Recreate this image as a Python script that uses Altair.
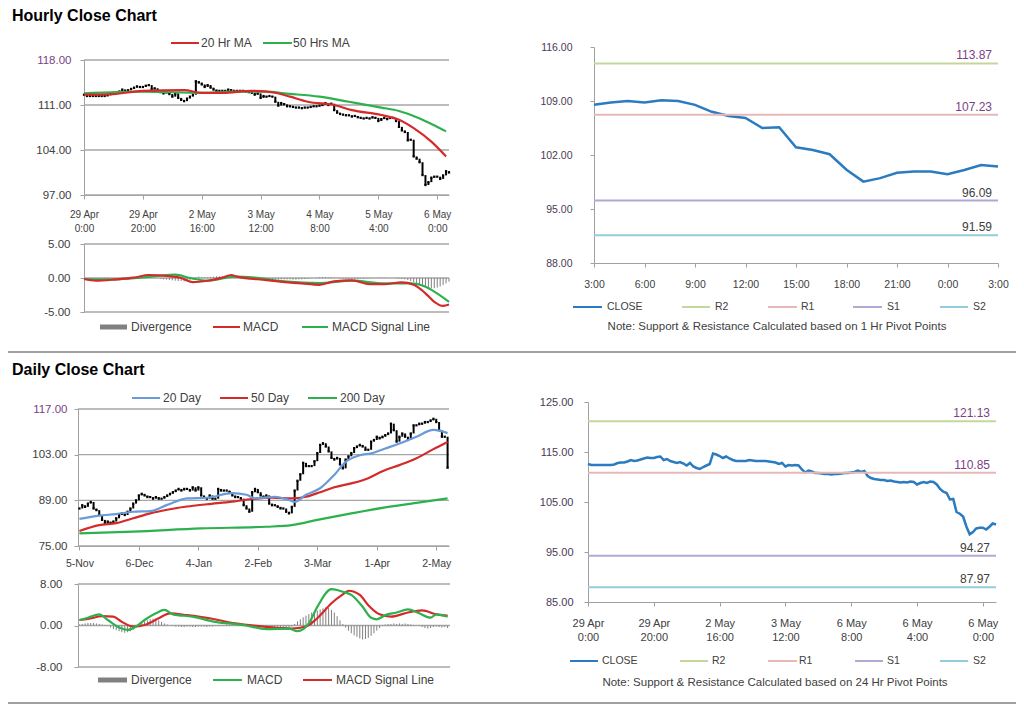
import altair as alt
import pandas as pd

# ---------------- data ----------------
hourly_close = [
    112.6, 112.4, 112.4, 112.4, 112.4, 112.4, 112.4, 112.4, 112.5, 112.8,
    112.9, 112.9, 113.1, 113.4, 113.2, 113.3, 113.5, 113.7, 113.9, 113.8,
    113.8, 114.0, 114.1, 113.4, 113.6, 113.2, 113.0, 112.8, 113.0, 112.7,
    112.3, 112.8, 112.1, 111.8, 111.6, 112.0, 112.3, 112.6, 114.7, 114.5,
    114.2, 113.8, 114.1, 113.7, 113.4, 113.2, 113.2, 113.2, 113.2, 113.4,
    113.3, 113.2, 113.2, 113.2, 113.2, 113.1, 113.0, 112.9, 112.6, 112.8,
    112.1, 112.4, 112.3, 112.4, 112.3, 111.5, 110.9, 111.3, 111.1, 110.8,
    110.8, 110.7, 110.6, 110.6, 110.5, 110.6, 110.6, 110.7, 110.8, 110.8,
    110.9, 111.0, 111.3, 111.0, 111.2, 110.2, 109.8, 109.6, 109.5, 109.4,
    109.4, 109.2, 109.3, 109.1, 109.0, 108.9, 109.0, 108.9, 109.1, 109.0,
    108.5, 108.8, 109.0, 108.8, 109.1, 109.0, 108.5, 107.6, 107.05, 106.8,
    105.5, 105.6, 103.0, 102.65, 102.1, 100.1, 98.55, 99.0, 99.7, 99.85,
    99.85, 99.5, 100.05, 100.7, 100.5,
]
hourly_ma20_idx = [0, 10, 20, 34, 40, 47, 57, 65, 70, 76, 85, 91, 101, 107, 112, 118, 123]
hourly_ma20 = [112.6, 112.7, 113.2, 113.3, 112.9, 112.9, 113.2, 112.9, 112.3, 111.5,
               111.0, 110.2, 109.45, 108.7, 107.4, 105.3, 103.0]
hourly_ma50_idx = [0, 20, 40, 51, 62, 68, 80, 90, 101, 107, 113, 118, 123]
hourly_ma50 = [112.8, 113.07, 112.9, 113.07, 113.07, 112.8, 112.3, 111.5, 110.6, 110.07,
               109.1, 108.05, 106.9]

hourly_macd_idx = [0, 4, 11, 17, 22, 28, 33, 37, 42, 47, 50, 52, 62, 74, 80, 85, 91, 97,
                   102, 108, 112, 116, 119, 122, 124]
hourly_macd = [-0.15, -0.4, -0.2, 0.05, 0.44, 0.3, 0.0, -0.6, -0.4, 0.05, 0.44, 0.2, -0.3,
               -0.8, -1.0, -0.5, -0.35, -0.9, -0.9, -0.65, -1.0, -2.25, -3.5, -4.1, -3.9]
hourly_signal_idx = [0, 11, 19, 25, 31, 36, 42, 51, 58, 68, 80, 91, 102, 111, 116, 119, 124]
hourly_signal = [-0.15, -0.2, 0.05, 0.3, 0.5, 0.0, -0.4, 0.2, 0.05, -0.5, -0.75, -0.4,
                 -0.8, -0.8, -1.3, -2.0, -3.5]
hourly_divergence = [
    0.0, -0.05, -0.1, -0.1, -0.05, 0.0, 0.0, 0.05, 0.05, 0.0,
    0.0, 0.0, 0.05, 0.1, 0.1, 0.15, 0.2, 0.2, 0.2, 0.2,
    0.15, 0.2, 0.25, 0.2, 0.1, 0.0, -0.1, -0.2, -0.25, -0.3,
    -0.35, -0.4, -0.45, -0.45, -0.5, -0.4, -0.3, -0.2, 0.1, 0.2,
    0.15, 0.1, 0.1, 0.15, 0.2, 0.25, 0.25, 0.2, 0.15, 0.1,
    0.1, 0.05, 0.0, -0.05, -0.1, -0.15, -0.2, -0.2, -0.2, -0.2,
    -0.25, -0.25, -0.25, -0.2, -0.2, -0.2, -0.25, -0.2, -0.2, -0.2,
    -0.2, -0.25, -0.25, -0.2, -0.2, -0.15, -0.1, -0.05, 0.0, 0.05,
    0.1, 0.15, 0.15, 0.1, 0.1, 0.05, 0.0, -0.05, -0.1, -0.15,
    -0.2, -0.2, -0.2, -0.15, -0.1, -0.1, -0.05, -0.05, 0.0, 0.0,
    0.05, 0.05, 0.05, 0.0, 0.0, 0.0, -0.05, -0.1, -0.15, -0.2,
    -0.3, -0.45, -0.6, -0.8, -1.0, -1.2, -1.35, -1.45, -1.5, -1.5,
    -1.4, -1.25, -1.05, -0.8, -0.55,
]

daily_close = [
    86.5, 87.5, 87.0, 88.0, 88.5, 86.5, 86.0, 84.5, 83.0, 82.0,
    82.5, 82.0, 82.5, 83.5, 84.5, 85.0, 84.5, 85.5, 86.5, 88.0,
    89.0, 90.5, 91.0, 90.5, 90.0, 90.0, 89.5, 90.0, 89.5, 89.5,
    90.0, 90.5, 91.0, 91.5, 92.0, 92.5, 92.0, 92.5, 92.5, 92.0,
    93.0, 92.0, 93.0, 90.5, 90.0, 89.5, 90.5, 89.5, 89.5, 92.5,
    92.0, 92.0, 92.0, 91.5, 90.5, 90.0, 90.0, 89.5, 87.5, 86.5,
    85.5, 91.5, 92.5, 91.5, 90.5, 90.0, 90.5, 88.0, 87.5, 87.5,
    87.0, 86.5, 86.5, 85.5, 85.0, 87.0, 92.0, 95.0, 97.0, 100.5,
    99.5, 99.5, 99.5, 101.0, 103.5, 106.0, 106.5, 105.5, 104.0, 102.0,
    101.5, 102.0, 100.0, 98.8, 101.5, 102.5, 103.5, 105.0, 105.5, 106.0,
    105.5, 104.5, 104.5, 107.0, 107.5, 108.5, 108.0, 108.5, 109.0, 109.5,
    112.5, 110.5, 107.0, 108.5, 109.5, 108.5, 107.5, 109.5, 112.0, 112.0,
    112.5, 112.5, 113.0, 113.0, 113.5, 114.0, 113.0, 110.5, 108.5, 108.5,
    99.0,
]
daily_ma20_idx = [0, 7, 13, 19, 25, 31, 38, 45, 54, 59, 62, 69, 74, 76, 80, 85, 90, 94,
                  99, 103, 108, 113, 119, 125, 130]
daily_ma20 = [83.3, 84.3, 84.8, 85.5, 85.7, 87.6, 89.6, 89.8, 91.2, 90.7, 89.6, 90.1, 89.1,
              88.5, 90.7, 92.7, 96.8, 100.8, 102.8, 103.4, 104.9, 106.4, 108.5, 110.6, 109.6]
daily_ma50_idx = [0, 7, 13, 19, 25, 31, 38, 45, 54, 61, 68, 75, 80, 85, 90, 96, 102, 107,
                  113, 119, 125, 130]
daily_ma50 = [79.6, 81.4, 82.0, 83.5, 85.0, 86.1, 87.1, 87.8, 88.6, 89.4, 89.8, 89.6, 90.1,
              91.5, 93.0, 94.2, 95.8, 97.9, 99.8, 101.9, 104.7, 106.9]
daily_ma200_idx = [0, 19, 43, 66, 75, 84, 96, 107, 119, 130]
daily_ma200 = [78.9, 79.4, 80.4, 80.9, 81.4, 83.0, 85.0, 86.7, 88.2, 89.6]

daily_macd_idx = [0, 3, 7, 10, 14, 17, 20, 23, 27, 30, 33, 40, 48, 58, 66, 74, 77, 81, 84,
                  89, 93, 96, 100, 103, 105, 108, 112, 116, 120, 124, 126, 130]
daily_macd = [1.06, 1.5, 2.15, 1.06, -0.4, -0.85, -0.2, 1.06, 2.35, 3.0, 2.15, 1.7, 0.7,
              0.1, -0.7, -0.6, -1.1, 0.4, 3.6, 7.0, 6.5, 5.9, 3.6, 1.5, 1.2, 2.0, 2.5, 3.1,
              2.35, 1.5, 2.15, 1.7]
daily_signal_idx = [0, 3, 8, 12, 15, 19, 23, 28, 32, 38, 46, 55, 65, 75, 80, 84, 89, 93, 95,
                    99, 102, 106, 110, 116, 121, 126, 130]
daily_signal = [1.06, 1.25, 1.8, 1.7, 0.7, -0.2, 0.1, 1.4, 2.35, 2.0, 1.4, 0.4, -0.2, -0.6,
                -0.2, 1.4, 4.3, 6.0, 6.7, 5.9, 3.9, 2.15, 1.7, 2.5, 2.9, 2.15, 1.9]
daily_divergence = [
    0.2, 0.3, 0.4, 0.5, 0.5, 0.5, 0.4, 0.3, 0.2, 0.1, -0.1,
    -0.4, -0.7, -0.9, -1.1, -1.3, -1.4, -1.3, -1.1, -0.8, -0.4, 0.1,
    0.5, 0.8, 1.0, 1.2, 1.3, 1.2, 1.0, 0.7, 0.4, 0.2, 0.0,
    -0.1, -0.2, -0.2, -0.3, -0.3, -0.2, -0.2, -0.3, -0.3, -0.2, -0.2,
    -0.2, -0.3, -0.2, -0.2, -0.1, -0.1, 0.1, 0.1, 0.2, 0.1, 0.1,
    0.0, -0.1, -0.1, -0.2, -0.2, -0.3, -0.3, -0.4, -0.3, -0.4, -0.3,
    -0.3, -0.4, -0.3, -0.3, -0.4, -0.3, -0.4, -0.5, -0.3, -0.2, 0.3,
    0.8, 1.2, 1.6, 1.9, 2.2, 2.5, 2.7, 2.9, 3.1, 3.3, 3.5,
    3.4, 3.0, 2.5, 1.8, 1.0, 0.3, -0.4, -1.0, -1.5, -1.9, -2.2,
    -2.5, -2.7, -2.6, -2.4, -2.0, -1.5, -1.0, -0.5, -0.1, 0.2, 0.3,
    0.3, 0.4, 0.3, 0.4, 0.3, 0.4, 0.3, 0.2, 0.1, 0.0, -0.1,
    -0.3, -0.5, -0.6, -0.5, -0.3, -0.2, -0.3, -0.4, -0.3, -0.5,
]

pivot_names = ["R2", "R1", "S1", "S2"]
hourly_pivots = [113.87, 107.23, 96.09, 91.59]
daily_pivots = [121.13, 110.85, 94.27, 87.97]

hourly_price_ticks = [97, 104, 111, 118]
hourly_macd_ticks = [-5, 0, 5]
daily_price_ticks = [75, 89, 103, 117]
daily_macd_ticks = [-8, 0, 8]
pivot1_ticks = [88, 95, 102, 109, 116]
pivot24_ticks = [85, 95, 105, 115, 125]

hourly_tick_labels = ["29 Apr|0:00", "29 Apr|20:00", "2 May|16:00", "3 May|12:00",
                      "4 May|8:00", "5 May|4:00", "6 May|0:00"]
pivot24_tick_labels = ["29 Apr|0:00", "29 Apr|20:00", "2 May|16:00", "3 May|12:00",
                       "6 May|8:00", "6 May|4:00", "6 May|0:00"]
hour_tick_labels = ["3:00", "6:00", "9:00", "12:00", "15:00", "18:00", "21:00", "0:00", "3:00"]
daily_tick_labels = ["5-Nov", "6-Dec", "4-Jan", "2-Feb", "3-Mar", "1-Apr", "2-May"]

hourly_legend = ["20 Hr MA", "50 Hrs MA"]
daily_legend = ["20 Day", "50 Day", "200 Day"]
macd_legend = ["Divergence", "MACD", "MACD  Signal Line"]
pivot_legend = ["CLOSE", "R2", "R1", "S1", "S2"]
titles = ["Hourly Close Chart", "Daily Close Chart"]
notes = ["Note: Support & Resistance Calculated based on 1 Hr Pivot Points",
         "Note:  Support & Resistance Calculated based on 24 Hr Pivot Points"]

# ---------------- style / layout ----------------
W, H = 1008, 697
FONT = "Liberation Sans"
AX = "#A0A0A0"
GRID = "#A6A6A6"
LBL = "#404040"
PURP = "#7B3F86"
RED = "#D42A2A"
GREEN = "#2DB14E"
BLUE20 = "#6A9BD8"
DIVG = "#808080"
CLOSE_C = "#2A7BC0"
PIV_COLORS = ["#C4D79B", "#E6B9B8", "#B4A7D6", "#92CDDC"]
pivot_color_scale = alt.Scale(domain=pivot_names, range=PIV_COLORS)

Y_EXPR = "replace(format(datum.value, '.2f'), '\u2212', '-')"


def label_expr(labels, step):
    arr = "[" + ",".join("'" + s + "'" for s in labels) + "]"
    return f"split({arr}[round(datum.value / {step})], '|')"


def sc(domain, rng):
    return alt.Scale(domain=domain, range=rng, nice=False, zero=False)


def y_axis(values, x_px, size, pad, top=None, color=LBL):
    lc = color if top is None else {
        "condition": {"test": f"datum.value == {top}", "value": PURP}, "value": color}
    return alt.Axis(orient="left", offset=-x_px, values=values, grid=False,
                    domainColor=AX, tickColor=AX, tickSize=4, labelFontSize=size,
                    labelColor=lc, labelPadding=pad, labelExpr=Y_EXPR, title=None,
                    labelFlush=False, labelOverlap=False)


def x_axis(values, y_px, expr, size, pad):
    return alt.Axis(orient="bottom", offset=y_px - H, values=values, grid=False,
                    domainColor=AX, tickColor=AX, tickSize=4, labelFontSize=size,
                    labelColor=LBL, labelPadding=pad, labelExpr=expr, labelLineHeight=14,
                    title=None, labelFlush=False, labelOverlap=False)


def grid_layer(ticks, ys, ya, x0, x1):
    return alt.Chart(pd.DataFrame({"v": ticks})).mark_rule(color=GRID, strokeWidth=1.3).encode(
        y=alt.Y("v:Q", scale=ys, axis=ya), x=alt.value(x0), x2=alt.value(x1))


def line_layer(idx, vals, xs, ys, xa, ya, color, width=2.2):
    df = pd.DataFrame({"i": idx, "v": vals})
    return alt.Chart(df).mark_line(color=color, strokeWidth=width, interpolate="monotone").encode(
        x=alt.X("i:Q", scale=xs, axis=xa), y=alt.Y("v:Q", scale=ys, axis=ya))


def candle_layers(closes, xs, ys, xa, ya):
    df = pd.DataFrame({"i": range(len(closes)), "close": closes})
    df["open"] = df["close"].shift(1).fillna(df["close"])
    body = alt.Chart(df).mark_rule(color="black", strokeWidth=2).encode(
        x=alt.X("i:Q", scale=xs, axis=xa), y=alt.Y("open:Q", scale=ys, axis=ya), y2="close:Q")
    dot = alt.Chart(df).mark_square(size=5, color="black", opacity=1).encode(
        x=alt.X("i:Q", scale=xs, axis=xa), y=alt.Y("close:Q", scale=ys, axis=ya))
    return [body, dot]


def div_layer(vals, xs, ys, xa, ya):
    df = pd.DataFrame({"i": range(len(vals)), "v": vals})
    return alt.Chart(df).mark_rule(color=DIVG, strokeWidth=1).encode(
        x=alt.X("i:Q", scale=xs, axis=xa), y=alt.Y("v:Q", scale=ys, axis=ya), y2=alt.datum(0))


def pivot_panel(closes, xs, ys, xa, ya, pivots, x0, x1):
    cdf = pd.DataFrame({"i": range(len(closes)), "v": closes})
    pdf = pd.DataFrame({"name": pivot_names, "v": pivots, "lab": [f"{v:.2f}" for v in pivots]})
    line = alt.Chart(cdf).mark_line(color=CLOSE_C, strokeWidth=2.5).encode(
        x=alt.X("i:Q", scale=xs, axis=xa), y=alt.Y("v:Q", scale=ys, axis=ya))
    rules = alt.Chart(pdf).mark_rule(strokeWidth=2).encode(
        y=alt.Y("v:Q", scale=ys, axis=ya), x=alt.value(x0), x2=alt.value(x1),
        color=alt.Color("name:N", scale=pivot_color_scale, legend=None))
    lab_r = alt.Chart(pdf.iloc[:2]).mark_text(align="right", baseline="alphabetic", dy=-4,
                                              fontSize=12, color=PURP).encode(
        y=alt.Y("v:Q", scale=ys, axis=ya), x=alt.value(x1 - 6), text="lab:N")
    lab_s = alt.Chart(pdf.iloc[2:]).mark_text(align="right", baseline="alphabetic", dy=-4,
                                              fontSize=12, color=LBL).encode(
        y=alt.Y("v:Q", scale=ys, axis=ya), x=alt.value(x1 - 6), text="lab:N")
    return alt.layer(line, rules, lab_r, lab_s)


ONE = pd.DataFrame({"k": [0]})


def txt(s, x, y, size=12, align="left", baseline="middle", color=LBL, bold=False):
    return alt.Chart(ONE).mark_text(text=s, align=align, baseline=baseline, fontSize=size,
                                    color=color, fontWeight="bold" if bold else "normal").encode(
        x=alt.value(x), y=alt.value(y))


def hline(x1, x2, y, color, width=2):
    return alt.Chart(ONE).mark_rule(color=color, strokeWidth=width).encode(
        x=alt.value(x1), x2=alt.value(x2), y=alt.value(y))


def box(x1, x2, y1, y2, color):
    return alt.Chart(ONE).mark_rect(color=color).encode(
        x=alt.value(x1), x2=alt.value(x2), y=alt.value(y1), y2=alt.value(y2))


# ---------------- hourly price ----------------
hx = sc([0, 124], [76, 441])
hy = sc([97, 118], [187, 52])
hxa = x_axis([0, 20, 40, 60, 80, 100, 120], 187, label_expr(hourly_tick_labels, 20), 10, 10)
hya = y_axis(hourly_price_ticks, 76, 11.5, 9, top=118)
p_hourly = alt.layer(
    grid_layer(hourly_price_ticks, hy, hya, 76, 441),
    *candle_layers(hourly_close, hx, hy, hxa, hya),
    line_layer(hourly_ma50_idx, hourly_ma50, hx, hy, hxa, hya, GREEN),
    line_layer(hourly_ma20_idx, hourly_ma20, hx, hy, hxa, hya, RED),
)

# ---------------- hourly MACD ----------------
mhy = sc([-5, 5], [304, 236])
mhya = y_axis(hourly_macd_ticks, 76, 11.5, 10)
p_hmacd = alt.layer(
    grid_layer(hourly_macd_ticks, mhy, mhya, 76, 441),
    div_layer(hourly_divergence, hx, mhy, None, mhya),
    line_layer(hourly_signal_idx, hourly_signal, hx, mhy, None, mhya, GREEN),
    line_layer(hourly_macd_idx, hourly_macd, hx, mhy, None, mhya, RED),
)

# ---------------- hourly pivot ----------------
px1 = sc([0, 24], [586, 990])
py1 = sc([88, 116], [255, 39])
px1a = x_axis(list(range(0, 25, 3)), 255, label_expr(hour_tick_labels, 3), 10.5, 12)
py1a = y_axis(pivot1_ticks, 586, 10.5, 18, color="#4B3A55")
p_piv1 = pivot_panel(hourly_close[100:], px1, py1, px1a, py1a, hourly_pivots, 586, 990)

# ---------------- daily price ----------------
dx = sc([-0.5, 130.5], [70, 441])
dy = sc([75, 117], [538, 401])
dxa = x_axis([0, 21, 42, 63, 84, 105, 126], 538, label_expr(daily_tick_labels, 21), 10.5, 8)
dya = y_axis(daily_price_ticks, 70, 11.5, 7, top=117)
p_daily = alt.layer(
    grid_layer(daily_price_ticks, dy, dya, 70, 441),
    *candle_layers(daily_close, dx, dy, dxa, dya),
    line_layer(daily_ma200_idx, daily_ma200, dx, dy, dxa, dya, GREEN),
    line_layer(daily_ma50_idx, daily_ma50, dx, dy, dxa, dya, RED),
    line_layer(daily_ma20_idx, daily_ma20, dx, dy, dxa, dya, BLUE20),
)

# ---------------- daily MACD ----------------
mdy = sc([-8, 8], [659, 576])
mdya = y_axis(daily_macd_ticks, 70, 11.5, 12)
p_dmacd = alt.layer(
    grid_layer(daily_macd_ticks, mdy, mdya, 70, 442),
    div_layer(daily_divergence, dx, mdy, None, mdya),
    line_layer(daily_signal_idx, daily_signal, dx, mdy, None, mdya, RED),
    line_layer(daily_macd_idx, daily_macd, dx, mdy, None, mdya, GREEN),
)

# ---------------- daily pivot ----------------
px2 = sc([0, 124], [580, 988])
py2 = sc([85, 125], [594, 394])
px2a = x_axis([0, 20, 40, 60, 80, 100, 120], 594, label_expr(pivot24_tick_labels, 20), 11, 11)
py2a = y_axis(pivot24_ticks, 580, 11, 11, color="#4B3A55")
p_piv2 = pivot_panel(hourly_close, px2, py2, px2a, py2a, daily_pivots, 580, 988)

# ---------------- titles, legends, separators ----------------
decor = [
    txt(titles[0], 4, 13, size=16, baseline="alphabetic", color="black", bold=True),
    txt(titles[1], 4, 367, size=16, baseline="alphabetic", color="black", bold=True),
    hline(0, W, 344, "#808080", 1.5),
    hline(0, W, 695, "#808080", 1.5),
    # hourly legend
    hline(163, 191, 35, RED), txt(hourly_legend[0], 193, 35),
    hline(255, 284, 35, GREEN), txt(hourly_legend[1], 285, 35),
    # hourly macd legend
    box(92, 119, 316.5, 321.5, DIVG), txt(macd_legend[0], 123, 319),
    hline(205, 232, 319, RED), txt(macd_legend[1], 235, 319),
    hline(294, 320, 319, GREEN), txt(macd_legend[2], 324, 319),
    # hourly pivot legend
    hline(565, 594, 299, CLOSE_C), txt(pivot_legend[0], 599, 299, size=10.5),
    hline(674, 702, 299, PIV_COLORS[0]), txt(pivot_legend[1], 707, 299, size=10.5),
    hline(760, 789, 299, PIV_COLORS[1]), txt(pivot_legend[2], 793, 299, size=10.5),
    hline(845, 874, 299, PIV_COLORS[2]), txt(pivot_legend[3], 879, 299, size=10.5),
    hline(932, 960, 299, PIV_COLORS[3]), txt(pivot_legend[4], 965, 299, size=10.5),
    txt(notes[0], 769, 319, size=11.5, align="center"),
    # daily legend
    hline(124, 152, 390, BLUE20), txt(daily_legend[0], 155, 390),
    hline(212, 240, 390, RED), txt(daily_legend[1], 243, 390),
    hline(300, 329, 390, GREEN), txt(daily_legend[2], 332, 390),
    # daily macd legend
    box(90, 119, 669.5, 674.5, DIVG), txt(macd_legend[0], 123, 672),
    hline(205, 234, 672, GREEN), txt(macd_legend[1], 239, 672),
    hline(295, 324, 672, RED), txt(macd_legend[2], 328, 672),
    # daily pivot legend
    hline(562, 590, 653, CLOSE_C), txt(pivot_legend[0], 594, 653, size=10.5),
    hline(672, 700, 653, PIV_COLORS[0]), txt(pivot_legend[1], 704, 653, size=10.5),
    hline(760, 789, 653, PIV_COLORS[1]), txt(pivot_legend[2], 791, 653, size=10.5),
    hline(847, 875, 653, PIV_COLORS[2]), txt(pivot_legend[3], 879, 653, size=10.5),
    hline(932, 960, 653, PIV_COLORS[3]), txt(pivot_legend[4], 965, 653, size=10.5),
    txt(notes[1], 767, 675, size=11.5, align="center"),
]

chart = alt.layer(p_hourly, p_hmacd, p_piv1, p_daily, p_dmacd, p_piv2, *decor).resolve_scale(
    x="independent", y="independent"
).resolve_axis(
    x="independent", y="independent"
).properties(
    width=W, height=H, autosize=alt.AutoSizeParams(type="none"), padding=0
).configure(font=FONT).configure_view(stroke=None)

chart.save("out.html", embed_options={"renderer": "svg", "actions": False})
